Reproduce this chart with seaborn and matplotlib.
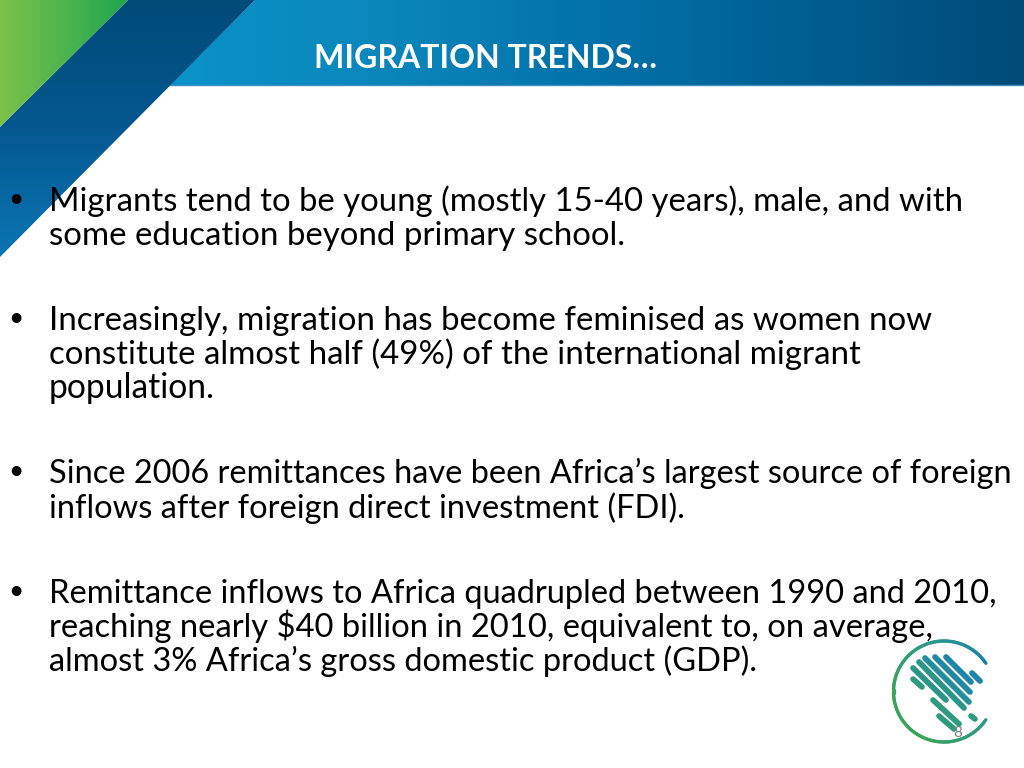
import numpy as np
import seaborn as sns
from matplotlib import pyplot as plt
from matplotlib.collections import LineCollection
from matplotlib.patches import Polygon

# textos de la diapositiva
titulo = "MIGRATION TRENDS…"
lineas = [
    "Migrants tend to be young (mostly 15-40 years), male, and with",
    "some education beyond primary school.",
    "Increasingly, migration has become feminised as women now",
    "constitute almost half (49%) of the international migrant",
    "population.",
    "Since 2006 remittances have been Africa’s largest source of foreign",
    "inflows after foreign direct investment (FDI).",
    "Remittance inflows to Africa quadrupled between 1990 and 2010,",
    "reaching nearly $40 billion in 2010, equivalent to, on average,",
    "almost 3% Africa’s gross domestic product (GDP).",
]
base_lineas = [211, 245, 330, 364, 398, 483, 518, 603, 637, 671]
tam_lineas = [23.7, 23.75, 23.75, 23.75, 24.2, 23.4, 23.5, 23.5, 23.6, 23.5]
base_vinetas = [207, 326, 479, 599]
pagina = "8"

# barras del logo (x1, y1, x2, y2)
barras_logo = [
    (946, 657, 971, 682),
    (972, 673, 980, 681),
    (935, 657, 970, 692),
    (925, 658, 969, 702),
    (919, 662, 964, 708),
    (913, 668, 946, 700),
    (913, 679, 922, 687),
    (933, 700, 959, 724),
    (939, 716, 954, 729),
    (971, 716, 975, 719),
]
colores_logo = ["#1d86a6", "#1d86a6", "#1f8aa2", "#238f9a", "#2a9688",
                "#2a9688", "#2f9a80", "#2f9a80", "#2f9a80", "#2f9a80"]

sns.set_theme(style="white")
plt.rcParams["font.family"] = ["Lato", "DejaVu Sans"]

fig, ax = plt.subplots(figsize=(10.24, 7.68), dpi=100)
fig.subplots_adjust(left=0, right=1, top=1, bottom=0)
ax.axis("off")


def degradado(puntos, colores, extent, vertical=False):
    #Rellenar un poligono con un degradado
    cmap = sns.blend_palette(colores, as_cmap=True)
    malla = np.linspace(0, 1, 256)
    malla = malla.reshape(-1, 1) if vertical else malla.reshape(1, -1)
    im = ax.imshow(malla, cmap=cmap, extent=extent, aspect="auto", zorder=1)
    im.set_clip_path(Polygon(puntos, transform=ax.transData))


#Banda azul del encabezado
degradado([(255, 0), (1024, 0), (1024, 85), (170, 85)],
          ["#0b93c9", "#0a86bb", "#0272a9", "#005e91", "#004a78"], (170, 1024, 85, 0))
ax.plot([170, 1024], [85, 85], color="#3f8fc0", lw=1, zorder=2)
#Franja azul oscura
degradado([(128, 0), (255, 0), (0, 257), (0, 127)],
          ["#004a78", "#04588f", "#0b75b5"], (0, 255, 257, 0), vertical=True)
#Triangulo verde
degradado([(0, 0), (128, 0), (0, 127)],
          ["#7cc24a", "#1fa650"], (0, 128, 127, 0))
ax.set_xlim(0, 1024)
ax.set_ylim(768, 0)

#Titulo
ax.text(314, 68, titulo, color="white", fontsize=23, fontweight="bold", va="baseline", zorder=3)

#Cuerpo del texto
for y, linea, tam in zip(base_lineas, lineas, tam_lineas):
    ax.text(49, y, linea, color="black", fontsize=tam, va="baseline", zorder=4)
for y in base_vinetas:
    ax.text(16, y, "•", color="black", fontsize=19, ha="center", va="baseline", zorder=4)

#Logo: arco y barras
ang = np.radians(np.linspace(-34, -326, 120))
xa = 944 + 50.5 * np.cos(ang)
ya = 691.5 + 50.5 * np.sin(ang)
seg = np.stack([np.column_stack([xa[:-1], ya[:-1]]), np.column_stack([xa[1:], ya[1:]])], axis=1)
pal_arco = sns.blend_palette(["#1d7fa8", "#2a9a8a", "#3aa35a", "#3aa35a", "#2a9a8a"], n_colors=len(seg))
ax.add_collection(LineCollection(seg, colors=pal_arco, linewidths=2.4, capstyle="round", zorder=5))
for (x1, y1, x2, y2), c in zip(barras_logo, colores_logo):
    ax.plot([x1, x2], [y1, y2], color=c, lw=4.1, solid_capstyle="round", zorder=5)

ax.text(958, 733, pagina, color="#7f7f7f", fontsize=11, ha="center", va="center", zorder=6)

fig.savefig("out.png", dpi=100)
